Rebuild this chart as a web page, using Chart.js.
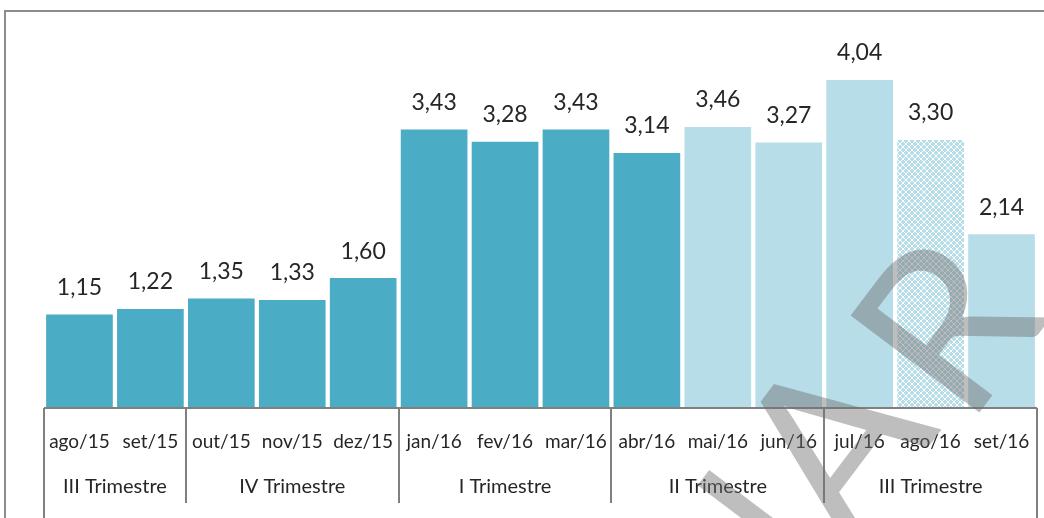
<!DOCTYPE html>
<html>
<head>
<meta charset="utf-8">
<script src="https://cdn.jsdelivr.net/npm/chart.js@4/dist/chart.umd.min.js"></script>
<style>
    html, body { margin: 0; padding: 0; background: #fff; overflow: hidden; }
    #wrap { position: relative; width: 1044px; height: 518px; }
    #frame { position: absolute; left: 4px; top: 10px; width: 1100px; height: 600px; border: 2px solid #8c8c8c; box-sizing: border-box; }
    canvas { position: absolute; left: 0; top: 0; }
</style>
</head>
<body>
<div id="wrap">
    <div id="frame"></div>
    <canvas id="chart" width="1044" height="518"></canvas>
</div>
<script>
const months = ['ago/15', 'set/15', 'out/15', 'nov/15', 'dez/15', 'jan/16', 'fev/16', 'mar/16', 'abr/16', 'mai/16', 'jun/16', 'jul/16', 'ago/16', 'set/16'];
const values = [1.15, 1.22, 1.35, 1.33, 1.60, 3.43, 3.28, 3.43, 3.14, 3.46, 3.27, 4.04, 3.30, 2.14];
const quarters = ['III Trimestre', 'IV Trimestre', 'I Trimestre', 'II Trimestre', 'III Trimestre'];
const quarterSizes = [2, 3, 3, 3, 3];
const darkCount = 9;      // ago/15 .. abr/16 in dark teal
const hatchedIndex = 12;  // ago/16

const dark = '#4BACC6';
const light = '#B7DDE8';

function makeHatch() {
    const c = document.createElement('canvas');
    c.width = 6;
    c.height = 6;
    const g = c.getContext('2d');
    g.fillStyle = light;
    g.fillRect(0, 0, 6, 6);
    g.fillStyle = '#ffffff';
    for (let i = 0; i < 6; i++) {
        g.fillRect(i, i, 1, 1);
        g.fillRect(5 - i, i, 1, 1);
    }
    return g.createPattern(c, 'repeat');
}

const hatch = makeHatch();
const colors = values.map((v, i) => i === hatchedIndex ? hatch : (i < darkCount ? dark : light));

const groupPlugin = {
    id: 'groups',
    afterDraw(chart) {
        const ctx = chart.ctx;
        const x = chart.scales.x;
        const bottom = chart.chartArea.bottom;
        const half = (x.getPixelForValue(1) - x.getPixelForValue(0)) / 2;

        // value labels above bars
        const meta = chart.getDatasetMeta(0);
        ctx.save();
        ctx.font = '23px Lato';
        ctx.fillStyle = '#262626';
        ctx.textAlign = 'center';
        ctx.textBaseline = 'middle';
        meta.data.forEach((bar, i) => {
            ctx.fillText(values[i].toFixed(2).replace('.', ','), bar.x, bar.y - 27);
        });
        ctx.restore();

        // quarter separators and labels
        ctx.save();
        ctx.strokeStyle = '#808080';
        ctx.lineWidth = 2;
        ctx.font = '20px Lato';
        ctx.fillStyle = '#262626';
        ctx.textAlign = 'center';
        ctx.textBaseline = 'middle';
        let start = 0;
        const edges = [x.getPixelForValue(0) - half];
        quarterSizes.forEach((n, q) => {
            const left = x.getPixelForValue(start) - half;
            const right = x.getPixelForValue(start + n - 1) + half;
            edges.push(right);
            ctx.fillText(quarters[q], (left + right) / 2, 487);
            start += n;
        });
        edges.forEach((ex, k) => {
            const last = k === 0 || k === edges.length - 1;
            ctx.beginPath();
            ctx.moveTo(Math.round(ex), bottom);
            ctx.lineTo(Math.round(ex), last ? 518 : 503);
            ctx.stroke();
        });
        ctx.beginPath();
        ctx.moveTo(edges[0], bottom);
        ctx.lineTo(edges[edges.length - 1], bottom);
        ctx.stroke();
        ctx.restore();

        // watermark
        ctx.save();
        ctx.translate(942, 429);
        ctx.rotate(-53 * Math.PI / 180);
        ctx.font = '225px Lato';
        ctx.fillStyle = 'rgba(110, 110, 110, 0.45)';
        ctx.textBaseline = 'alphabetic';
        ctx.textAlign = 'right';
        ctx.fillText('PRELIMINA', 0, 0);
        ctx.textAlign = 'left';
        ctx.fillText('R', 15, 20);
        ctx.restore();
    }
};

new Chart(document.getElementById('chart').getContext('2d'), {
    type: 'bar',
    data: {
        labels: months,
        datasets: [{
            data: values,
            backgroundColor: colors,
            borderWidth: 0,
            categoryPercentage: 1,
            barPercentage: 0.94
        }]
    },
    options: {
        responsive: false,
        animation: false,
        layout: { padding: { left: 44, right: 7, top: 2, bottom: 0 } },
        plugins: {
            legend: { display: false },
            tooltip: { enabled: false }
        },
        scales: {
            y: {
                display: false,
                min: 0,
                max: 5
            },
            x: {
                grid: { display: false },
                border: { display: false },
                ticks: {
                    color: '#262626',
                    font: { family: 'Lato', size: 19 },
                    padding: 14,
                    maxRotation: 0,
                    autoSkip: false
                },
                afterFit(scale) {
                    scale.height = 110;
                    scale.paddingLeft = 0;
                    scale.paddingRight = 0;
                }
            }
        }
    },
    plugins: [groupPlugin]
});
</script>
</body>
</html>
